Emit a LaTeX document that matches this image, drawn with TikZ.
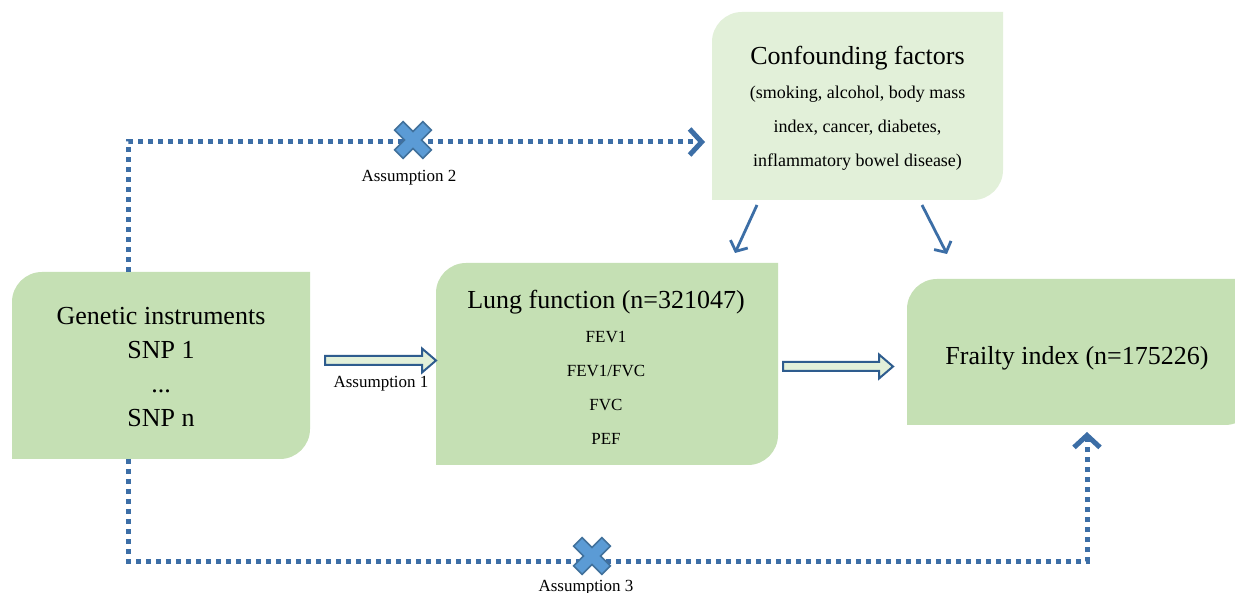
\documentclass[tikz,border=0pt]{standalone}
\usepackage{fontspec}
\setmainfont{Liberation Serif}
\usetikzlibrary{arrows.meta,calc}
\definecolor{boxgreen}{HTML}{C5E0B4}
\definecolor{lightgreen}{HTML}{E2F0D9}
\definecolor{lineblue}{HTML}{3C6EA6}
\definecolor{arrowedge}{HTML}{2E5C8E}
\definecolor{xblue}{HTML}{5B9BD5}
\definecolor{xedge}{HTML}{41719C}

\newcommand\roundbox[3]{%
  \fill[#2] (#1.south west) -- ($(#1.north west)+(0,#3)$)
    .. controls ($(#1.north west)+(0,0.45*#3)$) and ($(#1.north west)+(0.45*#3,0)$) .. ($(#1.north west)+(#3,0)$)
    -- (#1.north east) -- ($(#1.south east)+(0,-#3)$)
    .. controls ($(#1.south east)+(0,-0.45*#3)$) and ($(#1.south east)+(-0.45*#3,0)$) .. ($(#1.south east)+(-#3,0)$)
    -- cycle;}
\newcommand\blockarrow[2]{%
  \draw[blockarr] let \p1=(#1), \p2=(#2) in
    (\x1,\y1+4.5pt) -- (\x2-14pt,\y1+4.5pt) -- (\x2-14pt,\y1+12pt) -- (\x2,\y1)
    -- (\x2-14pt,\y1-12pt) -- (\x2-14pt,\y1-4.5pt) -- (\x1,\y1-4.5pt) -- cycle;}

\tikzset{
  boxshape/.style={rectangle, inner sep=0pt, outer sep=0pt},
  txt/.style={inner sep=0pt, align=center, font=\fontsize{26}{34}\selectfont},
  small/.style={inner sep=0pt, font=\fontsize{17}{20}\selectfont},
  dotline/.style={draw=lineblue, line width=5pt, dash pattern=on 5pt off 5pt,
    -{Straight Barb[length=12pt,width=26pt]}},
  solidarr/.style={draw=lineblue, line width=2.8pt, -{Straight Barb[length=8pt,width=19pt]}},
  blockarr/.style={fill=lightgreen, draw=arrowedge, line width=2pt, line join=miter},
  xmark/.pic={\filldraw[fill=xblue, draw=xedge, line width=1.5pt, rotate=45]
    (-6,20) -- (6,20) -- (6,6) -- (20,6) -- (20,-6) -- (6,-6) -- (6,-20) -- (-6,-20)
    -- (-6,-6) -- (-20,-6) -- (-20,6) -- (-6,6) -- cycle;}
}

\begin{document}
\begin{tikzpicture}[x=1pt,y=-1pt]
\useasboundingbox (0,0) rectangle (1235,593);
\fill[white] (0,0) rectangle (1235,593);

% boxes
\node[boxshape, minimum width=298pt, minimum height=187pt] (gen) at (161,365.5) {};
\node[boxshape, minimum width=342pt, minimum height=202pt] (lung) at (607,364) {};
\node[boxshape, minimum width=348pt, minimum height=146pt] (fr) at (1081,352) {};
\node[boxshape, minimum width=291pt, minimum height=188pt] (conf) at (857.5,106) {};
\roundbox{gen}{boxgreen}{30}
\roundbox{lung}{boxgreen}{30}
\roundbox{fr}{boxgreen}{30}
\roundbox{conf}{lightgreen}{30}

% texts
\node[txt] (gentxt) at (161,367) {Genetic instruments\\SNP 1\\...\\SNP n};
\node[txt] (lungtxt) at (606,367.5) {Lung function (n=321047)\\
  {\fontsize{17}{20}\selectfont FEV1}\\
  {\fontsize{17}{20}\selectfont FEV1/FVC}\\
  {\fontsize{17}{20}\selectfont FVC}\\
  {\fontsize{17}{20}\selectfont PEF}};
\node[txt] (frtxt) at (1077,358) {Frailty index (n=175226)};
\node[txt] (conftxt) at (857.5,108.6) {Confounding factors\\
  {\fontsize{18}{20}\selectfont (smoking, alcohol, body mass}\\
  {\fontsize{18}{20}\selectfont index, cancer, diabetes,}\\
  {\fontsize{18}{20}\selectfont inflammatory bowel disease)}};

% dotted paths
\draw[dotline] ([xshift=116pt]gen.north west) |- ([xshift=-7pt,yshift=-36pt]conf.west);
\draw[dotline] ([xshift=116pt]gen.south west) -- ++(0,102) -| ([xshift=180pt,yshift=-7pt]fr.south west);
\pic at (413,140) {xmark};
\pic at (592,556) {xmark};

% confounder arrows
\draw[solidarr] ([xshift=45pt,yshift=-5pt]conf.south west) -- ([xshift=299pt,yshift=10pt]lung.north west);
\draw[solidarr] ([xshift=210pt,yshift=-5pt]conf.south west) -- ([xshift=40pt,yshift=25pt]fr.north west);

% block arrows
\blockarrow{[xshift=15pt,yshift=5pt]gen.east}{lung.west}
\blockarrow{[xshift=5pt,yshift=-2.5pt]lung.east}{[xshift=-14pt]fr.west}

% labels
\node[small] (a1) at (381,384) {Assumption 1};
\node[small] (a2) at (409,178) {Assumption 2};
\node[small] (a3) at (586,587.5) {Assumption 3};
\end{tikzpicture}
\end{document}
